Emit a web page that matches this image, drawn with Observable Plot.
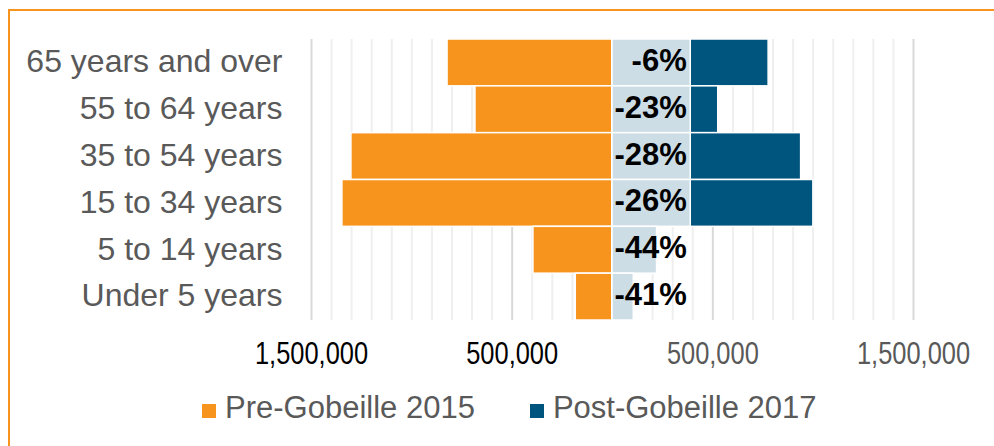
<!DOCTYPE html>
<html>
<head>
<meta charset="utf-8">
<script src="https://cdn.jsdelivr.net/npm/d3@7"></script>
<script src="https://cdn.jsdelivr.net/npm/@observablehq/plot@0.6"></script>
<style>
  html, body { margin: 0; padding: 0; background: #fff; overflow: hidden; width: 994px; height: 446px; }
  #wrap { position: relative; width: 994px; height: 446px; font-family: "Liberation Sans", Arial, sans-serif; }
  #chart svg { display: block; }
  #frame { position: absolute; left: 8px; top: 9px; width: 2000px; height: 2000px; border: 2px solid #F7941D; box-sizing: border-box; pointer-events: none; }
  #legend { margin-top: 15px; padding-left: 202px; font-size: 31px; line-height: 35px; color: #595959; white-space: nowrap; }
  #legend .sw { display: inline-block; width: 14px; height: 14px; margin-right: 9px; vertical-align: baseline; }
  #legend .item2 { margin-left: 55px; }
</style>
</head>
<body>
<div id="wrap">
  <div id="chart"></div>
  <div id="legend"></div>
  <div id="frame"></div>
</div>
<script>
// ---- data ----
const categories = ["65 years and over", "55 to 64 years", "35 to 54 years", "15 to 34 years", "5 to 14 years", "Under 5 years"];
const pre2015 = [822000, 683000, 1301000, 1346000, 394000, 183000];
const post2017 = [778000, 527000, 940000, 1001000, 222000, 106000];
const changeLabels = ["-6%", "-23%", "-28%", "-26%", "-44%", "-41%"];
const seriesNames = ["Pre-Gobeille 2015", "Post-Gobeille 2017"];
const majorTicks = [-1500000, -500000, 500000, 1500000];

// ---- styles ----
const ORANGE = "#F7941E";
const BLUE = "#00557F";
const LIGHT = "#CCDDE6";
const GREY = "#595959";
const labelBoxMax = 390000;

const rows = categories.map((c, i) => ({
  cat: c, pre: pre2015[i], post: post2017[i], label: changeLabels[i]
}));
const minorTicks = d3.range(-1500000, 1500001, 100000).filter(v => v !== 0 && !majorTicks.includes(v));
const fmt = d => d3.format(",")(Math.abs(d));

const plot = Plot.plot({
  width: 994,
  height: 375,
  marginTop: 39,
  marginBottom: 55,
  marginLeft: 311,
  marginRight: 81,
  style: { fontFamily: "'Liberation Sans', Arial, sans-serif", fontSize: "31px", color: GREY, background: "transparent" },
  x: { domain: [-1500000, 1500000] },
  y: { domain: categories, padding: 0, round: false },
  marks: [
    Plot.ruleX(minorTicks, { stroke: "#efefef", strokeWidth: 2 }),
    Plot.ruleX(majorTicks, { stroke: "#d9d9d9", strokeWidth: 2 }),
    Plot.barX(rows, { y: "cat", x1: d => -d.pre, x2: 0, fill: ORANGE, stroke: "white", strokeWidth: 1.5 }),
    Plot.barX(rows, { y: "cat", x1: 0, x2: "post", fill: BLUE, stroke: "white", strokeWidth: 1.5 }),
    Plot.barX(rows, { y: "cat", x1: 0, x2: d => Math.min(d.post, labelBoxMax), fill: LIGHT, stroke: "white", strokeWidth: 1.5 }),
    Plot.text(rows, { y: "cat", x: () => labelBoxMax, text: "label", textAnchor: "end", dx: -4, dy: -2,
      fontWeight: "bold", fontSize: 31, fill: "black", fontFamily: "'Liberation Sans', Arial, sans-serif" }),
    Plot.axisY({ tickSize: 0, tickPadding: 29, fontSize: 32, fill: GREY, label: null, dy: -1 }),
    Plot.axisX(majorTicks.filter(v => v < 0), { tickSize: 0, tickPadding: 21, tickFormat: fmt, fill: "black",
      fontSize: 31, label: null }),
    Plot.axisX(majorTicks.filter(v => v > 0), { tickSize: 0, tickPadding: 21, tickFormat: fmt, fill: GREY,
      fontSize: 31, label: null })
  ]
});
document.getElementById("chart").appendChild(plot);

// narrow the x tick labels (the reference uses a condensed face)
plot.querySelectorAll('g[aria-label="x-axis tick label"] text').forEach(t => {
  const w = t.getComputedTextLength();
  t.setAttribute("textLength", (w * 0.82).toFixed(1));
  t.setAttribute("lengthAdjust", "spacingAndGlyphs");
});

const legend = document.getElementById("legend");
const legendColors = [ORANGE, BLUE];
seriesNames.forEach((name, i) => {
  const item = document.createElement("span");
  item.className = i === 1 ? "item2" : "item1";
  const sw = document.createElement("span");
  sw.className = "sw";
  sw.style.background = legendColors[i];
  item.appendChild(sw);
  item.appendChild(document.createTextNode(name));
  legend.appendChild(item);
});
</script>
</body>
</html>
